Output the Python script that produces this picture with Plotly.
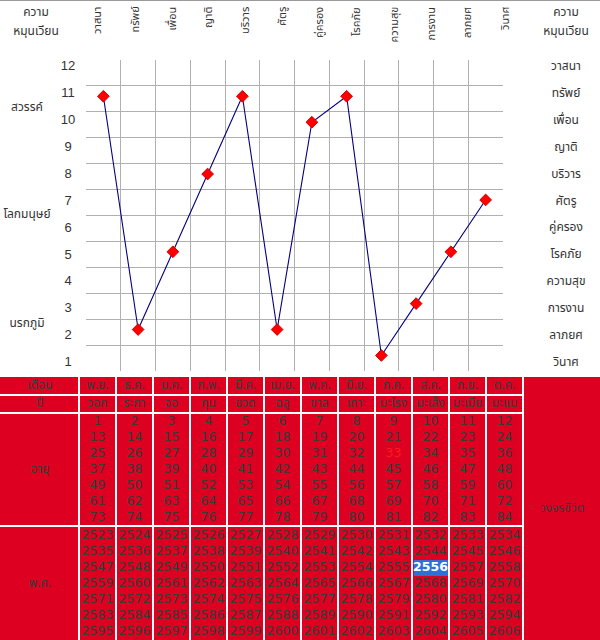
import plotly.graph_objects as go

# ---------------- data ----------------
categories = ["วาสนา", "ทรัพย์", "เพื่อน", "ญาติ", "บริวาร", "ศัตรู",
              "คู่ครอง", "โรคภัย", "ความสุข", "การงาน", "ลาภยศ", "วินาศ"]
values = [11, 2, 5, 8, 11, 2, 10, 11, 1, 3, 5, 7]
scale_labels = ["12", "11", "10", "9", "8", "7", "6", "5", "4", "3", "2", "1"]
right_labels = ["วาสนา", "ทรัพย์", "เพื่อน", "ญาติ", "บริวาร", "ศัตรู",
                "คู่ครอง", "โรคภัย", "ความสุข", "การงาน", "ลาภยศ", "วินาศ"]
realm_labels = ["สวรรค์", "โลกมนุษย์", "นรกภูมิ"]
corner_label = ["ความ", "หมุนเวียน"]
months = ["พ.ย.", "ธ.ค.", "ม.ค.", "ก.พ.", "มี.ค.", "เม.ย.",
          "พ.ค.", "มิ.ย.", "ก.ค.", "ส.ค.", "ก.ย.", "ต.ค."]
zodiac = ["วอก", "ระกา", "จอ", "กุน", "ชวด", "ฉลู",
          "ขาล", "เถาะ", "มะโรง", "มะเส็ง", "มะเมีย", "มะแม"]
row_labels = ["เดือน", "ปี", "อายุ", "พ.ศ."]
cycle_label = "วงจรชีวิต"
ages = [
    [1, 2, 3, 4, 5, 6, 7, 8, 9, 10, 11, 12],
    [13, 14, 15, 16, 17, 18, 19, 20, 21, 22, 23, 24],
    [25, 26, 27, 28, 29, 30, 31, 32, 33, 34, 35, 36],
    [37, 38, 39, 40, 41, 42, 43, 44, 45, 46, 47, 48],
    [49, 50, 51, 52, 53, 54, 55, 56, 57, 58, 59, 60],
    [61, 62, 63, 64, 65, 66, 67, 68, 69, 70, 71, 72],
    [73, 74, 75, 76, 77, 78, 79, 80, 81, 82, 83, 84],
]
years = [
    [2523, 2524, 2525, 2526, 2527, 2528, 2529, 2530, 2531, 2532, 2533, 2534],
    [2535, 2536, 2537, 2538, 2539, 2540, 2541, 2542, 2543, 2544, 2545, 2546],
    [2547, 2548, 2549, 2550, 2551, 2552, 2553, 2554, 2555, 2556, 2557, 2558],
    [2559, 2560, 2561, 2562, 2563, 2564, 2565, 2566, 2567, 2568, 2569, 2570],
    [2571, 2572, 2573, 2574, 2575, 2576, 2577, 2578, 2579, 2580, 2581, 2582],
    [2583, 2584, 2585, 2586, 2587, 2588, 2589, 2590, 2591, 2592, 2593, 2594],
    [2595, 2596, 2597, 2598, 2599, 2600, 2601, 2602, 2603, 2604, 2605, 2606],
]
highlight_year = 2556
highlight_age = 33

# ---------------- style / geometry ----------------
W, H = 600, 640
THAI = "Tahoma, 'Noto Sans Thai', 'Noto Sans', 'DejaVu Sans', sans-serif"
NUM = "'DejaVu Sans', sans-serif"
RED = "#DE0021"
TXT = "#3a3a3a"
GRID = "#b0b0b0"
PLOT_L, PLOT_R, PLOT_T, PLOT_B = 86, 503, 60, 371

LABEL_Y0, LABEL_DY = 67, 26.9
SCALE_X, RIGHT_X, REALM_X = 68, 566, 27
REALM_Y = [108, 215, 324]
CORNER_X = [36, 566]
CORNER_Y = [13, 32]

COL0 = (0, 78)
COL_X0, COL_W, GAP = 80, 35, 2
LAST = (524, 600)
ROWS = [(377, 394), (396, 412), (414, 525), (527, 640)]
LINE_DY = 16
AGE_Y0, YEAR_Y0 = 422, 536

fig = go.Figure()

# ---------------- chart ----------------
fig.add_trace(go.Scatter(
    x=list(range(len(categories))), y=values, mode="lines+markers",
    line=dict(color="#000080", width=1.1),
    marker=dict(symbol="diamond", size=9, color="#ff0000",
                line=dict(color="#d00000", width=1)),
    xaxis="x", yaxis="y", hoverinfo="skip", showlegend=False,
))

# ---------------- worksheet layer ----------------
shapes = []
shapes.append(dict(type="line", xref="x2", yref="y2", x0=0, x1=W, y0=0.5, y1=0.5,
                   line=dict(color="#9a9a9a", width=1), layer="below"))


def cell(x0, x1, y0, y1, color):
    shapes.append(dict(type="rect", xref="x2", yref="y2", x0=x0, x1=x1, y0=y0, y1=y1,
                       fillcolor=color, line=dict(width=0), layer="below"))


col_l = [COL_X0 + i * (COL_W + GAP) for i in range(len(months))]
col_c = [c + COL_W / 2 for c in col_l]

for (r0, r1) in ROWS:
    cell(COL0[0], COL0[1], r0, r1, RED)
    for cl in col_l:
        cell(cl, cl + COL_W, r0, r1, RED)
cell(LAST[0], LAST[1], ROWS[0][0], ROWS[-1][1], RED)

# highlight year background
for k, row in enumerate(years):
    for i, yv in enumerate(row):
        if yv == highlight_year:
            yc = YEAR_Y0 + k * LINE_DY
            cell(col_l[i] + 1, col_l[i] + COL_W, yc - LINE_DY / 2, yc + LINE_DY / 2, "#2f6fd6")

# table text
tx, ty, tt, tc = [], [], [], []
for i in range(len(months)):
    tx += [col_c[i], col_c[i]]
    ty += [(ROWS[0][0] + ROWS[0][1]) / 2, (ROWS[1][0] + ROWS[1][1]) / 2]
    tt += [months[i], zodiac[i]]
    tc += [TXT, TXT]
fig.add_trace(go.Scatter(x=tx, y=ty, text=tt, mode="text", xaxis="x2", yaxis="y2",
                         textfont=dict(family=THAI, size=12, color=tc),
                         hoverinfo="skip", showlegend=False))

nx, ny, nt, nc = [], [], [], []
for k, row in enumerate(ages):
    for i, a in enumerate(row):
        nx.append(col_c[i]); ny.append(AGE_Y0 + k * LINE_DY); nt.append(str(a))
        nc.append("#ff1a1a" if a == highlight_age else TXT)
for k, row in enumerate(years):
    for i, yv in enumerate(row):
        nx.append(col_c[i]); ny.append(YEAR_Y0 + k * LINE_DY)
        if yv == highlight_year:
            nt.append("<b>%d</b>" % yv); nc.append("#ffffff")
        else:
            nt.append(str(yv)); nc.append(TXT)
fig.add_trace(go.Scatter(x=nx, y=ny, text=nt, mode="text", xaxis="x2", yaxis="y2",
                         textfont=dict(family=NUM, size=12.5, color=nc),
                         hoverinfo="skip", showlegend=False))

# row labels + cycle label
lx = [(COL0[0] + COL0[1]) / 2 + 1] * len(row_labels) + [(LAST[0] + LAST[1]) / 2]
ly = [(r0 + r1) / 2 for r0, r1 in ROWS] + [(ROWS[0][0] + ROWS[-1][1]) / 2]
fig.add_trace(go.Scatter(x=lx, y=ly, text=row_labels + [cycle_label], mode="text",
                         xaxis="x2", yaxis="y2",
                         textfont=dict(family=THAI, size=12, color=TXT),
                         hoverinfo="skip", showlegend=False))

# side labels
sx, sy, st = [], [], []
for k, s in enumerate(scale_labels):
    sx.append(SCALE_X); sy.append(LABEL_Y0 + k * LABEL_DY); st.append(s)
fig.add_trace(go.Scatter(x=sx, y=sy, text=st, mode="text", xaxis="x2", yaxis="y2",
                         textfont=dict(family="'Liberation Sans', sans-serif", size=13, color="#333333"),
                         hoverinfo="skip", showlegend=False))
rx, ry, rt = [], [], []
for k, s in enumerate(right_labels):
    rx.append(RIGHT_X); ry.append(LABEL_Y0 + k * LABEL_DY); rt.append(s)
for k, s in enumerate(realm_labels):
    rx.append(REALM_X); ry.append(REALM_Y[k]); rt.append(s)
for cx in CORNER_X:
    for k, s in enumerate(corner_label):
        rx.append(cx); ry.append(CORNER_Y[k]); rt.append(s)
fig.add_trace(go.Scatter(x=rx, y=ry, text=rt, mode="text", xaxis="x2", yaxis="y2",
                         textfont=dict(family=THAI, size=12, color="#333333"),
                         hoverinfo="skip", showlegend=False))

# rotated column headers
annotations = []
for i, c in enumerate(categories):
    annotations.append(dict(x=col_c[i], y=5, xref="x2", yref="y2", text=c,
                            textangle=-90, xanchor="center", yanchor="top",
                            showarrow=False,
                            font=dict(family=THAI, size=11, color="#333333")))

fig.update_layout(
    width=W, height=H, autosize=False,
    margin=dict(l=0, r=0, t=0, b=0, pad=0),
    paper_bgcolor="white", plot_bgcolor="rgba(0,0,0,0)",
    showlegend=False,
    shapes=shapes, annotations=annotations,
    xaxis=dict(domain=[PLOT_L / W, PLOT_R / W], range=[-0.5, 11.5],
               tickvals=[i - 0.5 for i in range(len(categories))],
               showticklabels=False, ticks="", showgrid=True, gridcolor=GRID, gridwidth=1,
               zeroline=False, showline=False, fixedrange=True),
    yaxis=dict(domain=[1 - PLOT_B / H, 1 - PLOT_T / H], range=[0.4, 12.4],
               tickvals=[v + 0.4 for v in range(1, 13)],
               showticklabels=False, ticks="", showgrid=True, gridcolor=GRID, gridwidth=1,
               zeroline=False, showline=False, fixedrange=True),
    xaxis2=dict(domain=[0, 1], range=[0, W], visible=False, fixedrange=True, anchor="y2"),
    yaxis2=dict(domain=[0, 1], range=[H, 0], visible=False, fixedrange=True, anchor="x2"),
)

fig.write_html("out.html", config={"displayModeBar": False},
               post_script="document.body.style.margin='0';document.body.style.overflow='hidden';")
